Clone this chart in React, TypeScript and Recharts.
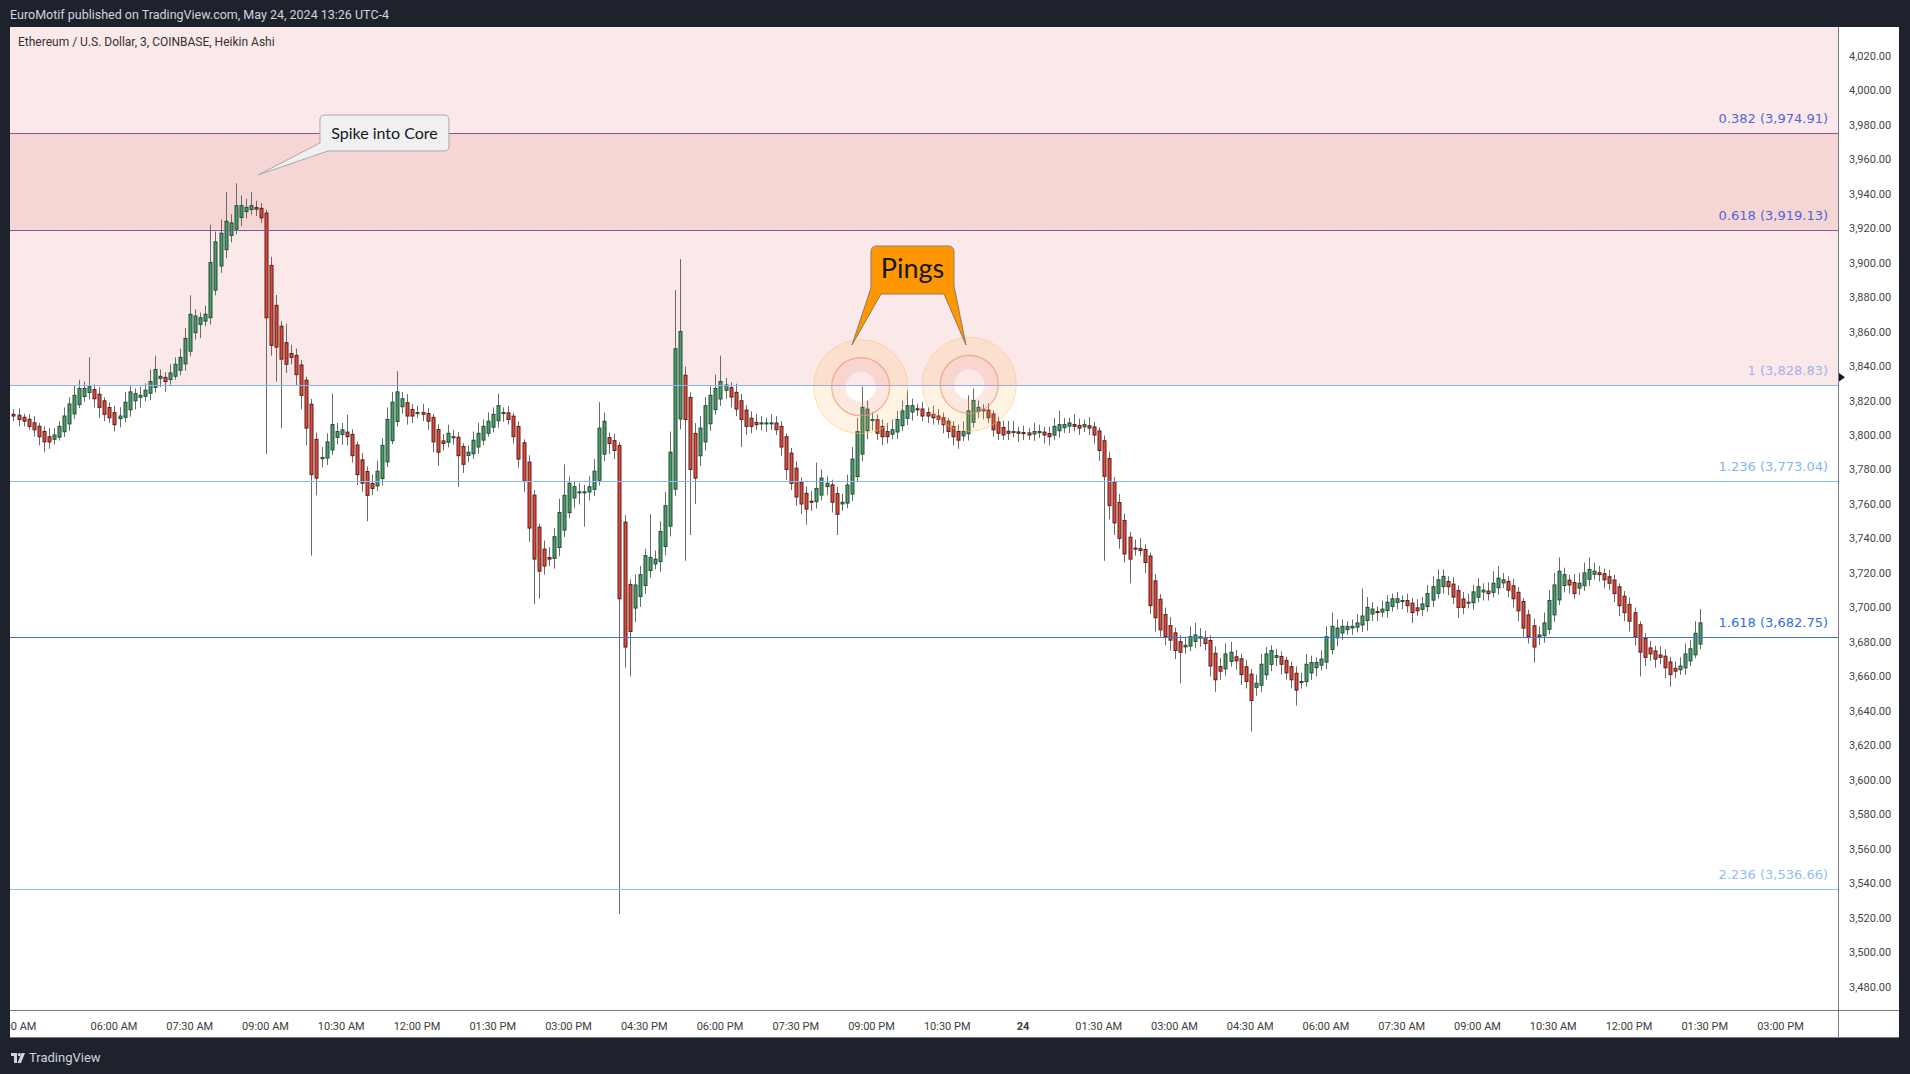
import React from 'react';
import {
  ComposedChart,
  Bar,
  XAxis,
  YAxis,
  ReferenceLine,
  ReferenceArea,
  ReferenceDot,
} from 'recharts';

// time is in hours relative to 00:00 on May 24; one Heikin Ashi candle every 6 minutes from 04:00 AM May 23
const FIRST_TIME = -20;
const CANDLE_HOURS = 0.1;
const FIRST_OPEN = 3812;

const closes = [
  3811, 3809, 3808, 3805, 3803, 3799, 3796, 3796, 3800, 3805, 3811, 3818, 3823, 3827, 3827, 3828, 3821, 3816, 3812, 3810,
  3806, 3811, 3819, 3825, 3824, 3823, 3826, 3831, 3838, 3834, 3831, 3836, 3841, 3845, 3856, 3870, 3869, 3868, 3870, 3900,
  3912, 3917, 3924, 3923, 3933, 3933, 3932, 3933, 3931, 3926, 3868, 3852, 3851, 3844, 3841, 3845, 3835, 3823, 3804, 3777,
  3775, 3787, 3796, 3806, 3802, 3803, 3799, 3788, 3777, 3772, 3765, 3769, 3779, 3794, 3809, 3819, 3825, 3821, 3811, 3811,
  3813, 3812, 3808, 3796, 3790, 3795, 3801, 3799, 3788, 3783, 3790, 3797, 3801, 3805, 3808, 3812, 3817, 3813, 3809, 3799,
  3786, 3773, 3746, 3728, 3721, 3724, 3728, 3741, 3755, 3765, 3772, 3770, 3767, 3767, 3770, 3779, 3804, 3808, 3795, 3791,
  3705, 3677, 3686, 3713, 3719, 3730, 3729, 3728, 3744, 3759, 3790, 3850, 3860, 3809, 3780, 3775, 3804, 3817, 3823, 3827,
  3831, 3829, 3822, 3815, 3809, 3805, 3805, 3806, 3807, 3807, 3807, 3803, 3793, 3780, 3772, 3764, 3760, 3757, 3761, 3769,
  3775, 3772, 3761, 3754, 3761, 3771, 3786, 3802, 3816, 3815, 3809, 3801, 3799, 3799, 3803, 3809, 3814, 3817, 3817, 3815,
  3811, 3811, 3810, 3809, 3806, 3802, 3799, 3797, 3802, 3814, 3820, 3816, 3814, 3810, 3803, 3801, 3800, 3801, 3802, 3801,
  3801, 3800, 3802, 3802, 3800, 3799, 3805, 3806, 3806, 3807, 3805, 3804, 3806, 3804, 3800, 3791, 3776, 3759, 3749, 3740,
  3731, 3728, 3734, 3733, 3726, 3701, 3694, 3687, 3683, 3681, 3675, 3674, 3678, 3683, 3684, 3683, 3679, 3666, 3658, 3663,
  3673, 3674, 3669, 3661, 3657, 3646, 3656, 3667, 3673, 3675, 3672, 3667, 3662, 3658, 3652, 3657, 3667, 3668, 3668, 3670,
  3683, 3689, 3688, 3689, 3689, 3689, 3691, 3695, 3700, 3699, 3697, 3699, 3703, 3705, 3705, 3704, 3701, 3697, 3698, 3702,
  3708, 3712, 3716, 3718, 3712, 3706, 3700, 3700, 3703, 3709, 3712, 3710, 3708, 3714, 3717, 3716, 3710, 3705, 3698, 3688,
  3683, 3677, 3684, 3691, 3704, 3713, 3721, 3719, 3713, 3708, 3714, 3720, 3722, 3721, 3719, 3716, 3714, 3708, 3701, 3697,
  3692, 3683, 3674, 3671, 3673, 3670, 3671, 3665, 3661, 3663, 3666, 3673, 3676, 3685, 3691,
];

// upper / lower shadow lengths in dollars, beyond the Heikin Ashi body
const upperWicks = [
  3, 4, 2, 3, 4, 2, 3, 5, 4, 3, 5, 4, 6, 5, 4, 17, 3, 4, 2, 3,
  4, 5, 6, 4, 3, 5, 4, 7, 8, 4, 3, 5, 4, 5, 6, 11, 4, 3, 5, 22,
  6, 8, 17, 5, 13, 6, 5, 8, 4, 3, 2, 5, 6, 3, 11, 5, 4, 3, 2, 3,
  4, 6, 5, 18, 5, 4, 10, 3, 2, 4, 3, 5, 6, 4, 7, 6, 12, 4, 5, 3,
  4, 5, 3, 2, 3, 4, 5, 4, 3, 2, 4, 5, 6, 4, 5, 4, 7, 3, 4, 2,
  3, 2, 4, 3, 2, 5, 6, 5, 8, 18, 4, 3, 5, 4, 6, 7, 15, 5, 3, 4,
  2, 4, 3, 6, 5, 4, 25, 5, 6, 8, 12, 34, 42, 5, 3, 6, 7, 5, 6, 8,
  15, 4, 3, 5, 4, 3, 4, 5, 4, 3, 5, 4, 3, 2, 3, 4, 3, 4, 6, 15,
  5, 4, 3, 4, 5, 6, 7, 8, 12, 5, 4, 3, 4, 5, 6, 5, 6, 9, 4, 3,
  4, 3, 5, 4, 3, 2, 3, 4, 6, 9, 7, 4, 3, 4, 2, 3, 4, 6, 6, 3,
  4, 3, 5, 4, 3, 4, 5, 8, 4, 3, 6, 4, 3, 5, 3, 2, 3, 4, 3, 5,
  4, 3, 5, 6, 3, 2, 4, 3, 4, 5, 3, 4, 5, 6, 7, 5, 4, 3, 4, 5,
  6, 6, 4, 3, 4, 3, 5, 6, 4, 3, 4, 3, 2, 3, 4, 5, 6, 4, 3, 5,
  6, 8, 5, 4, 3, 4, 5, 16, 6, 4, 3, 5, 4, 3, 4, 3, 4, 3, 5, 4,
  5, 6, 6, 4, 3, 4, 3, 4, 5, 4, 5, 4, 5, 7, 7, 4, 3, 4, 3, 2,
  3, 4, 5, 6, 6, 7, 8, 4, 3, 5, 6, 6, 7, 5, 4, 3, 4, 3, 2, 3,
  4, 3, 2, 3, 4, 3, 5, 4, 3, 4, 5, 6, 5, 7, 8,
];

const lowerWicks = [
  3, 4, 3, 2, 4, 5, 6, 4, 3, 2, 3, 4, 3, 2, 3, 4, 5, 6, 4, 3,
  4, 5, 3, 4, 5, 6, 3, 4, 3, 5, 6, 3, 2, 3, 4, 3, 4, 8, 3, 4,
  3, 4, 5, 4, 3, 5, 4, 3, 4, 3, 79, 6, 20, 40, 5, 4, 6, 8, 10, 47,
  10, 5, 4, 3, 4, 6, 5, 4, 6, 5, 15, 4, 3, 4, 3, 2, 3, 4, 5, 4,
  3, 4, 5, 6, 8, 4, 3, 4, 18, 5, 4, 3, 4, 3, 2, 3, 4, 5, 3, 4,
  5, 6, 8, 26, 16, 5, 4, 6, 5, 4, 3, 6, 7, 20, 5, 4, 3, 4, 6, 5,
  183, 12, 26, 8, 6, 5, 4, 3, 6, 5, 6, 4, 6, 82, 38, 15, 6, 5, 4, 3,
  4, 5, 6, 4, 16, 5, 4, 3, 4, 5, 4, 3, 5, 6, 4, 5, 6, 9, 5, 4,
  3, 5, 6, 12, 4, 3, 4, 3, 4, 5, 6, 4, 5, 4, 3, 4, 3, 4, 5, 4,
  3, 4, 4, 3, 5, 4, 5, 5, 3, 4, 3, 4, 5, 3, 4, 4, 3, 4, 3, 5,
  4, 3, 4, 3, 5, 5, 3, 4, 3, 4, 3, 4, 3, 4, 5, 6, 49, 8, 7, 6,
  5, 14, 4, 3, 6, 5, 8, 4, 5, 6, 5, 18, 4, 3, 4, 5, 4, 6, 7, 5,
  4, 3, 5, 6, 4, 18, 5, 4, 3, 4, 5, 6, 4, 5, 9, 4, 3, 4, 5, 3,
  4, 3, 5, 4, 3, 4, 3, 4, 6, 4, 5, 3, 4, 3, 4, 5, 4, 6, 3, 4,
  3, 4, 3, 4, 5, 4, 6, 4, 3, 4, 3, 5, 4, 3, 4, 3, 4, 5, 6, 5,
  4, 9, 5, 4, 3, 4, 3, 4, 5, 3, 4, 3, 4, 3, 4, 5, 4, 5, 6, 5,
  6, 5, 14, 5, 4, 5, 4, 6, 7, 4, 3, 4, 3, 2, 3,
];

const priceTicks = [
  4020, 4000, 3980, 3960, 3940, 3920, 3900, 3880, 3860, 3840, 3820, 3800, 3780, 3760,
  3740, 3720, 3700, 3680, 3660, 3640, 3620, 3600, 3580, 3560, 3540, 3520, 3500, 3480,
];

const timeTicks = [-20, -18, -16.5, -15, -13.5, -12, -10.5, -9, -7.5, -6, -4.5, -3, -1.5, 0, 1.5, 3, 4.5, 6, 7.5, 9, 10.5, 12, 13.5, 15];
const timeLabels = [
  '04:00 AM', '06:00 AM', '07:30 AM', '09:00 AM', '10:30 AM', '12:00 PM', '01:30 PM', '03:00 PM', '04:30 PM',
  '06:00 PM', '07:30 PM', '09:00 PM', '10:30 PM', '24', '01:30 AM', '03:00 AM', '04:30 AM', '06:00 AM',
  '07:30 AM', '09:00 AM', '10:30 AM', '12:00 PM', '01:30 PM', '03:00 PM',
];

const fibRatios = ['0.382', '0.618', '1', '1.236', '1.618', '2.236'];
const fibPrices = [3974.91, 3919.13, 3828.83, 3773.04, 3682.75, 3536.66];

// annotation anchors: [time, price]
const spikeTip = [-15.149, 3950.8];
const pingsTip = [-3.386, 3852.2];
const pingRings = [
  [-3.214, 3828.0],
  [-1.063, 3829.4],
];
const axisMarker = [16.139, 3833.5];

const X_DOMAIN = [-20.059, 16.139];
const Y_DOMAIN = [3466.46, 4036.65];

const FIB_LINE = ['#5c5fd0', '#5c5fd0', '#86b3f3', '#86b7f7', '#3a76d9', '#8cbaf6'];
const FIB_TEXT = ['#4f67d8', '#4f67d8', '#9fb1ee', '#86b4f5', '#2f6fdc', '#94bdf4'];

const AXIS_FONT = 'Roboto, sans-serif';

type Candle = { t: number; open: number; close: number; range: [number, number] };

const candles: Candle[] = [];
closes.forEach((close, i) => {
  const open = i === 0 ? FIRST_OPEN : (candles[i - 1].open + candles[i - 1].close) / 2;
  const high = Math.max(open, close) + upperWicks[i];
  const low = Math.min(open, close) - lowerWicks[i];
  candles.push({ t: +(FIRST_TIME + i * CANDLE_HOURS).toFixed(2), open, close, range: [low, high] });
});

const money = (v: number) => v.toLocaleString('en-US', { minimumFractionDigits: 2, maximumFractionDigits: 2 });

const CandleShape = (props: any) => {
  const { x, y, width, height, payload } = props;
  if (!payload || !height) return null;
  const [low, high] = payload.range;
  const perUnit = height / (high - low);
  const cx = Math.round(x + width / 2);
  const top = y + (high - Math.max(payload.open, payload.close)) * perUnit;
  const bottom = y + (high - Math.min(payload.open, payload.close)) * perUnit;
  const rising = payload.close >= payload.open;
  return (
    <g>
      <line x1={cx + 0.5} x2={cx + 0.5} y1={y} y2={y + height} stroke="#6a6a6a" strokeWidth={1} />
      <rect
        x={cx - 1}
        y={top}
        width={3}
        height={Math.max(bottom - top, 1)}
        fill={rising ? '#4f9a6c' : '#dc4a3d'}
        stroke={rising ? '#1f4f33' : '#5e1d17'}
        strokeWidth={1}
      />
    </g>
  );
};

// snap horizontal level lines to whole pixels so they stay 1px sharp
const CrispLine = (props: any) => {
  const { x1, x2, y1, stroke, strokeDasharray } = props;
  const y = Math.round(y1) + 0.5;
  return <line x1={x1} x2={x2} y1={y} y2={y} stroke={stroke} strokeWidth={1} strokeDasharray={strokeDasharray} />;
};

const TimeTick = (props: any) => {
  const { x, y, payload } = props;
  const label = timeLabels[timeTicks.indexOf(payload.value)];
  return (
    <text
      x={x}
      y={y + 18}
      textAnchor="middle"
      fontFamily={AXIS_FONT}
      fontSize={11}
      fontWeight={label === '24' ? 700 : 400}
      fill="#3c3c3c"
    >
      {label}
    </text>
  );
};

const PriceTick = (props: any) => {
  const { x, y, payload } = props;
  return (
    <text x={x + 9} y={y + 4} textAnchor="start" fontFamily={AXIS_FONT} fontSize={11} fill="#444">
      {money(payload.value)}
    </text>
  );
};

const donut = (cx: number, cy: number, r1: number, r2: number) =>
  `M ${cx - r1} ${cy} a ${r1} ${r1} 0 1 0 ${2 * r1} 0 a ${r1} ${r1} 0 1 0 ${-2 * r1} 0 Z ` +
  `M ${cx - r2} ${cy} a ${r2} ${r2} 0 1 0 ${2 * r2} 0 a ${r2} ${r2} 0 1 0 ${-2 * r2} 0 Z`;

const RingShape = (props: any) => {
  const { cx, cy } = props;
  return (
    <g>
      <path d={donut(cx, cy, 47, 29)} fill="rgba(255,183,77,0.15)" fillRule="evenodd" />
      <circle cx={cx} cy={cy} r={47} fill="none" stroke="rgba(255,190,100,0.5)" />
      <path d={donut(cx, cy, 29, 15)} fill="rgba(240,140,105,0.2)" fillRule="evenodd" />
      <circle cx={cx} cy={cy} r={29} fill="none" stroke="rgba(240,145,105,0.7)" strokeWidth={1.2} />
    </g>
  );
};

const SpikeCallout = (props: any) => {
  const { cx, cy } = props;
  return (
    <g transform={`translate(${cx},${cy})`}>
      <path
        d="M67 -60 H186 Q191 -60 191 -55 V-29 Q191 -24 186 -24 H70 L0 0 L62 -32 V-55 Q62 -60 67 -60 Z"
        fill="#f0f0f0"
        stroke="#a9a9a9"
      />
      <text x={126.5} y={-36.5} textAnchor="middle" fontFamily="Lato, sans-serif" fontSize={16} fill="#131722">
        Spike into Core
      </text>
    </g>
  );
};

const PingsCallout = (props: any) => {
  const { cx, cy } = props;
  return (
    <g transform={`translate(${cx},${cy})`}>
      <path
        d="M25 -99 H96 Q102 -99 102 -93 V-59 L114 0 L92 -51 H29 L0 0 L19 -57 V-93 Q19 -99 25 -99 Z"
        fill="#ff9800"
        stroke="#8c7a66"
      />
      <text x={60.5} y={-67} textAnchor="middle" fontFamily="Lato, sans-serif" fontSize={27} fill="#131722">
        Pings
      </text>
    </g>
  );
};

const AxisMarker = (props: any) => {
  const { cx, cy } = props;
  return <polygon points={`${cx},${cy - 5} ${cx + 7},${cy} ${cx},${cy + 5}`} fill="#131722" />;
};

const TvLogo = () => (
  <svg width={14} height={10} viewBox="0 0 14 10" style={{ display: 'block' }}>
    <rect x={0} y={0} width={6} height={3} fill="#d1d4dc" />
    <rect x={3} y={0} width={3} height={10} fill="#d1d4dc" />
    <circle cx={8.3} cy={1.6} r={1.6} fill="#d1d4dc" />
    <polygon points="10.5,0 14,0 10,10 6.5,10" fill="#d1d4dc" />
  </svg>
);

const App: React.FC = () => {
  return (
    <div style={{ position: 'absolute', left: 0, top: 0, width: 1910, height: 1074, background: '#1e222d', fontFamily: AXIS_FONT }}>
      <div style={{ position: 'absolute', left: 10, top: 7, fontSize: 12.5, lineHeight: '15px', color: '#d1d4dc' }}>
        EuroMotif published on TradingView.com, May 24, 2024 13:26 UTC-4
      </div>

      <div style={{ position: 'absolute', left: 10, top: 27, width: 1889, height: 1011, background: '#ffffff', overflow: 'hidden' }}>
        <ComposedChart width={1889} height={1011} data={candles} margin={{ top: 0, right: 0, bottom: 0, left: 0 }}>
          <ReferenceArea y1={fibPrices[2]} y2={Y_DOMAIN[1]} fill="#fbe8e8" fillOpacity={1} stroke="none" />
          <ReferenceArea y1={fibPrices[1]} y2={fibPrices[0]} fill="#f6d5d5" fillOpacity={1} stroke="none" />
          <XAxis
            dataKey="t"
            type="number"
            domain={X_DOMAIN}
            allowDataOverflow
            ticks={timeTicks}
            interval={0}
            height={28}
            tickSize={0}
            tickLine={false}
            axisLine={false}
            tick={(p: any) => <TimeTick {...p} />}
          />
          <YAxis
            orientation="right"
            type="number"
            domain={Y_DOMAIN}
            allowDataOverflow
            ticks={priceTicks}
            interval={0}
            width={61}
            tickSize={0}
            tickLine={false}
            axisLine={false}
            tick={(p: any) => <PriceTick {...p} />}
          />
          <Bar dataKey="range" barSize={4} isAnimationActive={false} shape={(p: any) => <CandleShape {...p} />} />
          {fibPrices.map((price, i) => (
            <ReferenceLine
              key={`fib-${i}`}
              y={price}
              stroke={FIB_LINE[i]}
              strokeWidth={1}
              shape={(p: any) => <CrispLine {...p} stroke={FIB_LINE[i]} />}
              label={{
                value: `${fibRatios[i]} (${money(price)})`,
                position: 'insideBottomRight',
                offset: 10,
                fill: FIB_TEXT[i],
                fontSize: 13,
                fontFamily: 'DejaVu Sans, sans-serif',
              }}
            />
          ))}
          {fibPrices.slice(0, 2).map((price, i) => (
            <ReferenceLine
              key={`dots-${i}`}
              y={price}
              stroke="#e53935"
              strokeWidth={1}
              strokeDasharray="1 2"
              shape={(p: any) => <CrispLine {...p} stroke="#e53935" strokeDasharray="1 2" />}
            />
          ))}
          {pingRings.map((ring, i) => (
            <ReferenceDot key={`ring-${i}`} x={ring[0]} y={ring[1]} r={47} shape={(p: any) => <RingShape {...p} />} />
          ))}
          <ReferenceDot x={spikeTip[0]} y={spikeTip[1]} r={1} shape={(p: any) => <SpikeCallout {...p} />} />
          <ReferenceDot x={pingsTip[0]} y={pingsTip[1]} r={1} shape={(p: any) => <PingsCallout {...p} />} />
          <ReferenceDot
            x={axisMarker[0]}
            y={axisMarker[1]}
            r={1}
            ifOverflow="visible"
            shape={(p: any) => <AxisMarker {...p} />}
          />
        </ComposedChart>

        <div style={{ position: 'absolute', left: 8, top: 8, fontSize: 12, lineHeight: '14px', color: '#333' }}>
          Ethereum / U.S. Dollar, 3, COINBASE, Heikin Ashi
        </div>
        <div style={{ position: 'absolute', left: 1828, top: 0, width: 1, height: 1011, background: '#787b86' }} />
        <div style={{ position: 'absolute', left: 0, top: 983, width: 1889, height: 1, background: '#787b86' }} />
        <div style={{ position: 'absolute', left: 0, top: 1010, width: 1889, height: 1, background: '#787b86' }} />
      </div>

      <div style={{ position: 'absolute', left: 11, top: 1050, display: 'flex', alignItems: 'center', gap: 4, color: '#d1d4dc', fontSize: 13 }}>
        <TvLogo />
        <span>TradingView</span>
      </div>
    </div>
  );
};

export default App;
